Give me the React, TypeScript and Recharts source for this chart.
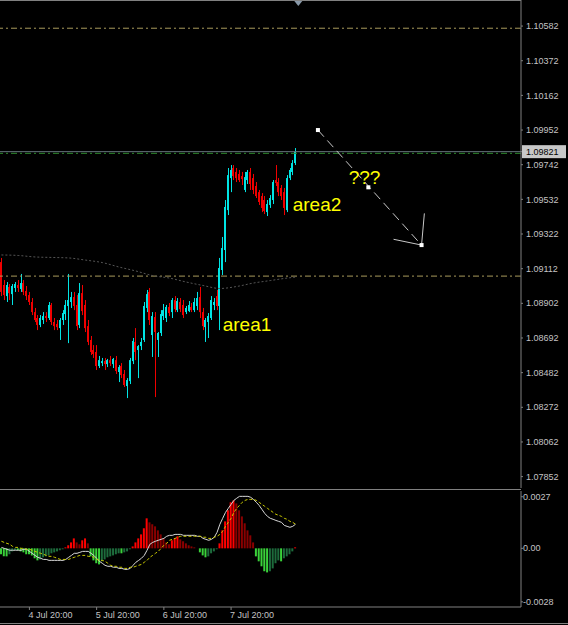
import { ComposedChart, Bar, Line, XAxis, YAxis, ReferenceLine, ReferenceDot, Cell } from 'recharts'

// hourly candles, oldest first
const opens = [
  1.09152, 1.09013, 1.08946, 1.09001, 1.08958, 1.08995, 1.09013, 1.08989, 1.09025, 1.08977,
  1.08952, 1.0891, 1.08849, 1.08813, 1.08771, 1.08801, 1.08825, 1.08813, 1.08892, 1.08789,
  1.08777, 1.08752, 1.08801, 1.08837, 1.08886, 1.0891, 1.0894, 1.08892, 1.08771, 1.08964,
  1.08892, 1.08764, 1.0868, 1.08619, 1.08607, 1.08522, 1.0854, 1.08552, 1.08534, 1.08558,
  1.08534, 1.08558, 1.08486, 1.08522, 1.08474, 1.08401, 1.08431, 1.08552, 1.08668, 1.08619,
  1.08643, 1.0868, 1.08874, 1.08971, 1.0871, 1.08819, 1.0868, 1.08722, 1.08825, 1.08813,
  1.0888, 1.08849, 1.08922, 1.08861, 1.0891, 1.08892, 1.08849, 1.08855, 1.0888, 1.08861,
  1.08886, 1.0894, 1.08849, 1.08758, 1.08789, 1.08813, 1.08892, 1.08946, 1.08886, 1.09104,
  1.09225, 1.09467, 1.09661, 1.09722, 1.09698, 1.09686, 1.09673, 1.09589, 1.09649, 1.09698,
  1.09661, 1.09613, 1.09576, 1.09552, 1.09528, 1.09455, 1.09498, 1.09528, 1.09649, 1.09637,
  1.09601, 1.09576, 1.09467, 1.09661, 1.09698, 1.09752,
]
const highs = [
  1.09177, 1.09043, 1.09031, 1.09019, 1.09019, 1.09031, 1.09043, 1.0908, 1.09043, 1.09007,
  1.08971, 1.08934, 1.08874, 1.08831, 1.08831, 1.08849, 1.08849, 1.0891, 1.08904, 1.08813,
  1.08801, 1.08813, 1.08861, 1.08922, 1.0908, 1.08971, 1.08971, 1.08952, 1.09025, 1.09013,
  1.08922, 1.08801, 1.08704, 1.08649, 1.08649, 1.08583, 1.08571, 1.08571, 1.08565, 1.08583,
  1.08571, 1.08583, 1.08528, 1.0854, 1.08498, 1.08449, 1.08571, 1.08692, 1.08752, 1.08649,
  1.08692, 1.0891, 1.08983, 1.08995, 1.08849, 1.08849, 1.08728, 1.08861, 1.08898, 1.08892,
  1.08904, 1.08934, 1.08946, 1.08934, 1.08934, 1.08922, 1.08886, 1.08916, 1.08904, 1.08934,
  1.08971, 1.09001, 1.08874, 1.08813, 1.08843, 1.08946, 1.08934, 1.08983, 1.09177, 1.09304,
  1.09528, 1.09722, 1.0974, 1.0974, 1.09722, 1.0971, 1.09698, 1.09698, 1.0971, 1.09722,
  1.09686, 1.09637, 1.09589, 1.0957, 1.09552, 1.09528, 1.09558, 1.09649, 1.0974, 1.09661,
  1.09619, 1.09601, 1.09679, 1.09722, 1.0977, 1.09843,
]
const lows = [
  1.08946, 1.08922, 1.0891, 1.08922, 1.08892, 1.08971, 1.08971, 1.08971, 1.08952, 1.08922,
  1.08892, 1.08831, 1.08789, 1.0874, 1.08758, 1.08777, 1.08789, 1.08801, 1.08771, 1.0874,
  1.0874, 1.0868, 1.08771, 1.08801, 1.08661, 1.08874, 1.08861, 1.0874, 1.08752, 1.08831,
  1.08728, 1.08649, 1.08589, 1.08571, 1.08498, 1.0851, 1.08522, 1.08498, 1.08516, 1.08522,
  1.0851, 1.08474, 1.08425, 1.08449, 1.08395, 1.08328, 1.08413, 1.08534, 1.08558, 1.08449,
  1.08619, 1.08668, 1.08849, 1.08771, 1.08577, 1.08334, 1.08577, 1.08704, 1.08801, 1.08789,
  1.08825, 1.08813, 1.08849, 1.08849, 1.08849, 1.08813, 1.08837, 1.08849, 1.08849, 1.08849,
  1.08861, 1.08813, 1.0874, 1.08668, 1.08692, 1.08801, 1.08861, 1.08861, 1.0874, 1.09074,
  1.09152, 1.09437, 1.09576, 1.09649, 1.09637, 1.09637, 1.09619, 1.09576, 1.09625, 1.09589,
  1.09564, 1.0954, 1.09498, 1.09455, 1.09443, 1.09431, 1.0948, 1.09504, 1.09613, 1.09552,
  1.09528, 1.09437, 1.09455, 1.09649, 1.09679, 1.0974,
]
const closes = [
  1.08971, 1.08952, 1.09013, 1.08964, 1.09007, 1.09019, 1.08995, 1.09025, 1.08971, 1.08946,
  1.0891, 1.08849, 1.08801, 1.08771, 1.08813, 1.08825, 1.08813, 1.08892, 1.08789, 1.08764,
  1.08758, 1.08801, 1.08843, 1.08892, 1.08922, 1.0894, 1.08886, 1.08764, 1.08964, 1.08855,
  1.08752, 1.08668, 1.08607, 1.08595, 1.08522, 1.08558, 1.08552, 1.08534, 1.08558, 1.0854,
  1.08565, 1.08492, 1.08516, 1.08468, 1.08407, 1.08437, 1.08558, 1.08674, 1.08607, 1.08643,
  1.08668, 1.08886, 1.08958, 1.08801, 1.08825, 1.08728, 1.08722, 1.08837, 1.08861, 1.0888,
  1.08843, 1.08922, 1.08867, 1.08916, 1.08867, 1.08831, 1.08874, 1.08892, 1.08861, 1.0891,
  1.08934, 1.08849, 1.08764, 1.08801, 1.08825, 1.08922, 1.0891, 1.08886, 1.09116, 1.09237,
  1.09486, 1.09679, 1.0971, 1.09673, 1.09661, 1.09649, 1.09655, 1.09667, 1.09698, 1.09625,
  1.09589, 1.09552, 1.09516, 1.0948, 1.09461, 1.09504, 1.0954, 1.09637, 1.09631, 1.09576,
  1.09552, 1.0948, 1.09661, 1.0971, 1.09752, 1.09821,
]

// dotted moving average, read at a few bars
const maIdx = [0, 6, 12, 18, 24, 30, 36, 42, 48, 54, 60, 66, 72, 78, 84, 90, 96, 102, 105]
const maVals = [
  1.09195, 1.09192, 1.09183, 1.0918, 1.09177, 1.09164, 1.09149, 1.09122, 1.09098, 1.0907,
  1.09055, 1.09031, 1.0901, 1.08992, 1.09004, 1.09025, 1.0904, 1.09055, 1.09061,
]

// oscillator window
const osma = [
  -0.00031, -0.00042, -0.00042, -0.00031, -0.00016, -0.0001, -0.0001, -0.00016, -0.00021, -0.00031,
  -0.00031, -0.00037, -0.00052, -0.00063, -0.00058, -0.00047, -0.00042, -0.00037, -0.00026, -0.00021,
  -0.00016, -0.0001, -0.00005, 0.00005, 0.00016, 0.00031, 0.00052, 0.00031, 0.00021, 0.00042,
  0.00052, 0.00026, -0.00042, -0.00063, -0.00078, -0.00084, -0.00068, -0.00058, -0.00047, -0.00042,
  -0.00037, -0.00031, -0.00026, -0.00026, -0.00021, -0.00016, -0.00005, 0.0001, 0.00031, 0.00052,
  0.00073, 0.00105, 0.00157, 0.00136, 0.00126, 0.00115, 0.00094, 0.00073, 0.00052, 0.00031,
  0.00021, 0.00042, 0.00052, 0.00063, 0.00047, 0.00037, 0.00026, 0.00016, 0.0001, 0.00005,
  0, -0.00021, -0.00037, -0.00047, -0.00042, -0.00026, -0.00016, -0.00005, 0.00026, 0.00094,
  0.00141, 0.00199, 0.00241, 0.00251, 0.00235, 0.00199, 0.00167, 0.00131, 0.00094, 0.00068,
  0.00031, -0.00042, -0.00068, -0.00094, -0.0012, -0.00126, -0.0012, -0.00105, -0.00078, -0.00063,
  -0.00068, -0.00052, -0.00042, -0.00031, -0.00016, 0.00005,
]
const macdMain = [
  0.00005, 0, -0.00005, -0.0001, -0.0001, -0.0001, -0.0001, -0.0001, -0.00005, -0.00005,
  -0.00016, -0.00026, -0.00037, -0.00047, -0.00052, -0.00058, -0.00058, -0.00063, -0.00063, -0.00063,
  -0.00063, -0.00063, -0.00063, -0.00058, -0.00047, -0.00037, -0.00026, -0.00026, -0.00021, -0.00016,
  -0.00016, -0.00016, -0.00026, -0.00037, -0.00052, -0.00068, -0.00078, -0.00089, -0.00094, -0.00094,
  -0.00099, -0.00099, -0.00105, -0.00105, -0.0011, -0.0011, -0.00105, -0.00089, -0.00073, -0.00063,
  -0.00052, -0.00037, -0.0001, 0.00021, 0.00031, 0.00037, 0.00042, 0.00047, 0.00052, 0.00063,
  0.00068, 0.00068, 0.00073, 0.00073, 0.00073, 0.00068, 0.00068, 0.00068, 0.00068, 0.00068,
  0.00063, 0.00063, 0.00052, 0.00047, 0.00042, 0.00047, 0.00058, 0.00084, 0.00126, 0.00157,
  0.00188, 0.00209, 0.0023, 0.00251, 0.00262, 0.00272, 0.00272, 0.00272, 0.00272, 0.00267,
  0.00256, 0.00241, 0.00225, 0.00204, 0.00183, 0.00167, 0.00157, 0.00152, 0.00146, 0.00141,
  0.00136, 0.0012, 0.00115, 0.0011, 0.00115, 0.00126,
]
const macdSignal = [
  0.00037, 0.00031, 0.00026, 0.00021, 0.0001, 0.00005, 0.00005, 0, 0, -0.00005,
  -0.00005, -0.0001, -0.00016, -0.00021, -0.00026, -0.00031, -0.00037, -0.00042, -0.00042, -0.00047,
  -0.00052, -0.00058, -0.00058, -0.00058, -0.00058, -0.00052, -0.00047, -0.00042, -0.00037, -0.00037,
  -0.00037, -0.00042, -0.00042, -0.00047, -0.00058, -0.00063, -0.00063, -0.00068, -0.00078, -0.00089,
  -0.00094, -0.00094, -0.00099, -0.00099, -0.00105, -0.00105, -0.00099, -0.00099, -0.00094, -0.00089,
  -0.00084, -0.00073, -0.00063, -0.00047, -0.00037, -0.00026, -0.00016, 0, 0.00016, 0.00026,
  0.00042, 0.00047, 0.00052, 0.00058, 0.00063, 0.00063, 0.00063, 0.00063, 0.00063, 0.00063,
  0.00063, 0.00063, 0.00058, 0.00058, 0.00052, 0.00052, 0.00058, 0.00063, 0.00073, 0.00089,
  0.00115, 0.00136, 0.00157, 0.00188, 0.00209, 0.00225, 0.00241, 0.00251, 0.00256, 0.00256,
  0.00256, 0.00251, 0.00241, 0.0023, 0.0022, 0.00209, 0.00199, 0.00188, 0.00178, 0.00173,
  0.00167, 0.00157, 0.00152, 0.00141, 0.00136, 0.00126,
]

const priceTicks = [
  1.10582, 1.10372, 1.10162, 1.09952, 1.09821, 1.09742, 1.09532, 1.09322, 1.09112,
  1.08902, 1.08692, 1.08482, 1.08272, 1.08062, 1.07852,
]
const currentPrice = 1.09821
const stopLine = 1.09811
const levelLines = [1.10569, 1.09067]
const oscTicks = [0.0027, 0, -0.0028]
const oscLabels = ['0.0027', '0.00', '-0.0028']
const timeIdx = [10, 34, 58, 82]
const timeText = ['4 Jul 20:00', '5 Jul 20:00', '6 Jul 20:00', '7 Jul 20:00']

// hand drawn arrow (bar index, price)
const arrowIdx = [113, 131, 150]
const arrowPrice = [1.09952, 1.09605, 1.09255]
const headIdx = [151, 140]
const headPrice = [1.09447, 1.0929]

const noteText = ['area1', 'area2', '???']
const noteIdx = [79, 104, 124]
const notePrice = [1.08734, 1.09461, 1.09625]

const SLOTS = 186
const BULL = '#00e4e4'
const BEAR = '#f00000'
const AXIS = '#808080'
const LABEL = '#c4c4c4'
const FONT = '"Liberation Sans", Arial, sans-serif'

const mainData = Array.from({ length: SLOTS }, (_, i) => {
  const k = maIdx.indexOf(i)
  return {
    i,
    range: i < opens.length ? [lows[i], highs[i]] : null,
    o: opens[i],
    h: highs[i],
    l: lows[i],
    c: closes[i],
    ma: k >= 0 ? maVals[k] : null,
  }
})

const subData = Array.from({ length: SLOTS }, (_, i) => ({
  i,
  osma: osma[i],
  main: macdMain[i],
  signal: macdSignal[i],
}))

function histColor(i: number) {
  const v = osma[i]
  const p = i > 0 ? osma[i - 1] : v
  if (v >= 0) return v >= p ? '#ff0000' : '#8a0000'
  return v <= p ? '#3ad23a' : '#1d6b3c'
}

const Candle = (props: any) => {
  const { x, y, width, height, payload } = props
  if (payload == null || payload.o == null) return null
  const { o, h, l, c } = payload
  const top = Math.min(y, y + height)
  const H = Math.abs(height)
  const span = h - l || 1e-9
  const py = (v: number) => top + ((h - v) / span) * H
  const px = Math.floor(x + width / 2)
  const col = c >= o ? BULL : BEAR
  const b1 = py(Math.max(o, c))
  const b2 = py(Math.min(o, c))
  return (
    <g>
      <rect x={px} y={top} width={1} height={Math.max(1, H)} fill={col} />
      <rect x={px - 1} y={b1} width={2} height={Math.max(1, b2 - b1)} fill={col} />
    </g>
  )
}

const PriceTick = (props: any) => {
  const { x, y, payload } = props
  const v = payload.value
  if (v === currentPrice) {
    return (
      <g>
        <rect x={x - 4} y={y - 6.5} width={44} height={13} fill="#c8c8c8" />
        <text x={x} y={y} dy="0.35em" fill="#000" fontSize={9} fontFamily={FONT}>
          {v.toFixed(5)}
        </text>
      </g>
    )
  }
  return (
    <text x={x} y={y} dy="0.35em" fill={LABEL} fontSize={9} fontFamily={FONT}>
      {v.toFixed(5)}
    </text>
  )
}

const OscTick = (props: any) => {
  const { x, y, payload } = props
  const k = oscTicks.indexOf(payload.value)
  return (
    <text x={x} y={y} dy="0.35em" fill={LABEL} fontSize={9} fontFamily={FONT}>
      {k >= 0 ? oscLabels[k] : ''}
    </text>
  )
}

const TimeTick = (props: any) => {
  const { x, y, payload } = props
  const k = timeIdx.indexOf(payload.value)
  if (k < 0) return null
  return (
    <g>
      <line x1={x} x2={x} y1={y} y2={y + 3} stroke={AXIS} />
      <text x={x - 1} y={y + 11} fill={LABEL} fontSize={9} fontFamily={FONT}>
        {timeText[k]}
      </text>
    </g>
  )
}

const square = (p: any) => <rect x={p.cx - 2} y={p.cy - 2} width={4} height={4} fill="#ffffff" />

export default function App() {
  return (
    <div
      style={{
        position: 'fixed',
        left: 0,
        top: 0,
        width: 568,
        height: 625,
        background: '#000',
        overflow: 'hidden',
        fontFamily: FONT,
      }}
    >
      <div style={{ position: 'absolute', left: 0, top: 0 }}>
        <ComposedChart
          width={568}
          height={488}
          data={mainData}
          margin={{ top: 0, right: 0, bottom: 0, left: 0 }}
          barCategoryGap={0}
        >
          <XAxis dataKey="i" type="category" hide />
          <YAxis
            orientation="right"
            width={47}
            domain={[1.07783, 1.1074]}
            allowDataOverflow
            ticks={priceTicks}
            interval={0}
            tick={<PriceTick />}
            tickSize={2}
            tickMargin={3}
            axisLine={{ stroke: AXIS }}
            tickLine={{ stroke: AXIS }}
          />
          {levelLines.map((v) => (
            <ReferenceLine key={v} y={v} stroke="#a89a5c" strokeDasharray="6 3 2 3" />
          ))}
          <ReferenceLine y={stopLine} stroke="#2e8b2e" strokeDasharray="6 3 2 3" />
          <ReferenceLine y={currentPrice} stroke="#66747e" />
          <Line
            dataKey="ma"
            type="monotone"
            connectNulls
            dot={false}
            stroke="#555555"
            strokeDasharray="2 2"
            strokeWidth={1}
            isAnimationActive={false}
          />
          <Bar dataKey="range" shape={<Candle />} isAnimationActive={false} />
          <ReferenceLine
            ifOverflow="visible"
            segment={[
              { x: arrowIdx[0], y: arrowPrice[0] },
              { x: arrowIdx[2], y: arrowPrice[2] },
            ]}
            stroke="#c8c8c8"
            strokeDasharray="9 5"
          />
          {headIdx.map((hx, k) => (
            <ReferenceLine
              key={'h' + k}
              ifOverflow="visible"
              segment={[
                { x: arrowIdx[2], y: arrowPrice[2] },
                { x: hx, y: headPrice[k] },
              ]}
              stroke="#c8c8c8"
            />
          ))}
          {arrowIdx.map((ax, k) => (
            <ReferenceDot key={'s' + k} x={ax} y={arrowPrice[k]} ifOverflow="visible" shape={square} />
          ))}
          {noteText.map((t, k) => (
            <ReferenceDot
              key={t}
              x={noteIdx[k]}
              y={notePrice[k]}
              ifOverflow="visible"
              shape={(p: any) => (
                <text x={p.cx} y={p.cy} fill="#ffff00" fontSize={19} fontFamily={FONT}>
                  {t}
                </text>
              )}
            />
          ))}
          <ReferenceDot
            x={106}
            y={1.1074}
            ifOverflow="visible"
            shape={(p: any) => (
              <polygon points={`${p.cx - 4},${p.cy + 1} ${p.cx + 4},${p.cy + 1} ${p.cx},${p.cy + 6}`} fill="#8898a8" />
            )}
          />
        </ComposedChart>
      </div>
      <div style={{ position: 'absolute', left: 0, top: 0, width: 521, height: 1, background: AXIS }} />
      <div style={{ position: 'absolute', left: 0, top: 489, width: 521, height: 1, background: AXIS }} />
      <div style={{ position: 'absolute', left: 0, top: 491 }}>
        <ComposedChart
          width={568}
          height={133}
          data={subData}
          margin={{ top: 0, right: 0, bottom: 0, left: 0 }}
          barCategoryGap={0}
        >
          <XAxis
            dataKey="i"
            type="category"
            height={17}
            interval={0}
            tick={<TimeTick />}
            tickLine={false}
            tickSize={0}
            tickMargin={0}
            axisLine={{ stroke: AXIS }}
          />
          <YAxis
            orientation="right"
            width={47}
            domain={[-0.00307, 0.003]}
            allowDataOverflow
            ticks={oscTicks}
            interval={0}
            tick={<OscTick />}
            tickSize={2}
            tickMargin={0}
            axisLine={{ stroke: AXIS }}
            tickLine={{ stroke: AXIS }}
          />
          <Bar dataKey="osma" barSize={2} isAnimationActive={false}>
            {subData.map((d) => (
              <Cell key={d.i} fill={d.i < osma.length ? histColor(d.i) : 'none'} />
            ))}
          </Bar>
          <Line dataKey="main" type="linear" dot={false} stroke="#d8d8d8" strokeWidth={1} isAnimationActive={false} />
          <Line
            dataKey="signal"
            type="linear"
            dot={false}
            stroke="#c8c800"
            strokeWidth={1}
            strokeDasharray="3 2"
            isAnimationActive={false}
          />
        </ComposedChart>
      </div>
      <div style={{ position: 'absolute', left: 0, top: 623, width: 568, height: 1, background: AXIS }} />
    </div>
  )
}
